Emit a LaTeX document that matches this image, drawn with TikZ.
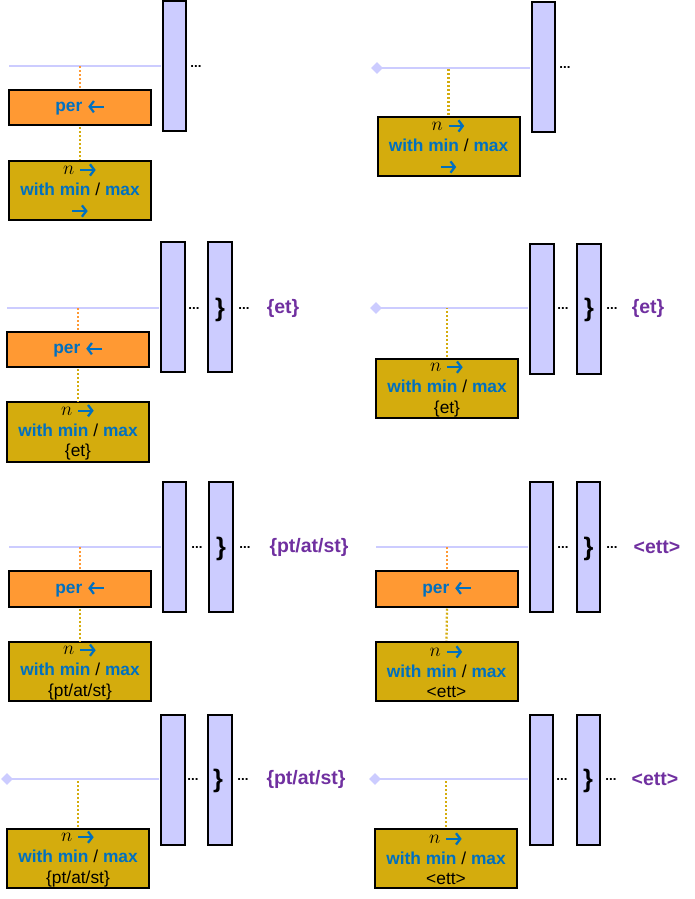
\documentclass[tikz,border=0pt]{standalone}
\usepackage{fontspec}
\setmainfont{Liberation Sans}
\usetikzlibrary{arrows.meta,shapes.geometric}
\definecolor{lav}{HTML}{CCCCFF}
\definecolor{orng}{HTML}{FF9933}
\definecolor{gld}{HTML}{D4AC0D}
\definecolor{bl}{HTML}{0070C0}
\definecolor{purp}{HTML}{7030A0}
\newcommand{\myRA}{\tikz[baseline=-3.6pt]{\draw[bl,line width=1.7pt,-{Straight Barb[length=3.2pt,width=8.5pt]}] (0pt,0pt)--(11.5pt,0pt);}}
\newcommand{\myLA}{\tikz[baseline=-3.6pt]{\draw[bl,line width=1.7pt,-{Straight Barb[length=3.2pt,width=8.5pt]}] (11.5pt,0pt)--(0pt,0pt);}}
\newcommand{\wmm}{\textcolor{bl}{\bfseries with min} / \textcolor{bl}{\bfseries max}}
\newcommand{\myN}{{\fontsize{15}{15.4}\selectfont$n$}}
\tikzset{
  barbox/.style={draw=black, line width=1.5pt, fill=lav, inner sep=0pt, minimum width=17.5pt, minimum height=97.5pt},
  obox/.style={draw=black, line width=1.5pt, fill=orng, inner sep=0pt, minimum width=106.5pt, minimum height=26.5pt, text=bl, font=\bfseries\fontsize{13}{15.4}\selectfont},
  gbox/.style={draw=black, line width=1.5pt, fill=gld, inner sep=0pt, minimum width=106.5pt, minimum height=44.5pt, align=center, font=\fontsize{13}{15.4}\selectfont},
  lavline/.style={draw=lav, line width=1.8pt, shorten >=0.8pt},
  dotline/.style={line width=1.7pt, dash pattern=on 1.5pt off 1.5pt, shorten <=0.8pt},
  dotsnode/.style={anchor=base, inner sep=0pt, font=\bfseries\fontsize{10}{11}\selectfont},
  brnode/.style={inner sep=0pt, font=\bfseries\fontsize{19}{22}\selectfont},
  plabel/.style={inner sep=0pt, text=purp, font=\bfseries\fontsize{14.6}{17}\selectfont},
  dmd/.style={diamond, fill=lav, inner sep=0pt, minimum size=9pt}
}
\begin{document}
\begin{tikzpicture}[x=0.75pt,y=-0.75pt]
\useasboundingbox (0,0) rectangle (695,899);
% ---------- panel 1 ----------
\coordinate (a1) at (9,66);
\node[barbox] (a1b) at (174.5,66) {};
\draw[lavline] (a1) -- (a1 -| a1b.west);
\node[dotsnode] (a1d) at (196,67.5) {...};
\node[obox] (a1o) at (80,107.5) {per \myLA};
\node[gbox] (a1g) at (80,190.5) {\myN{} \myRA\\ \wmm\\ \myRA};
\draw[dotline, orng] (a1o.north) -- (a1o.north |- a1);
\draw[dotline, gld] (a1o.south) -- (a1g.north);
% ---------- panel 2 ----------
\node[dmd] (a2) at (377,68) {};
\node[barbox] (a2b) at (543.5,67) {};
\draw[lavline] (a2.center) -- (a2.center -| a2b.west);
\node[dotsnode] (a2d) at (565,69) {...};
\node[gbox] (a2g) at (448.5,146.5) {\myN{} \myRA\\ \wmm\\ \myRA};
\draw[dotline, gld] (a2g.north) -- (a2g.north |- a2.center);
% ---------- panel 3 ----------
\coordinate (a3) at (7,308);
\node[barbox] (a3b) at (173,306.5) {};
\node[barbox] (a3c) at (220,306.5) {};
\draw[lavline] (a3) -- (a3 -| a3b.west);
\node[dotsnode] (a3d) at (194,309.5) {...};
\node[brnode] (a3r) at (220,310) {\}};
\node[dotsnode] (a3e) at (244,309.5) {...};
\node[plabel] (a3l) at (283,308) {\{et\}};
\node[obox] (a3o) at (78,349.5) {per \myLA};
\node[gbox] (a3g) at (78,432) {\myN{} \myRA\\ \wmm\\ \{et\}};
\draw[dotline, orng] (a3o.north) -- (a3o.north |- a3);
\draw[dotline, gld] (a3o.south) -- (a3g.north);
% ---------- panel 4 ----------
\node[dmd] (a4) at (376,308) {};
\node[barbox] (a4b) at (542,308.5) {};
\node[barbox] (a4c) at (589,308.5) {};
\draw[lavline] (a4.center) -- (a4.center -| a4b.west);
\node[dotsnode] (a4d) at (563,309.5) {...};
\node[brnode] (a4r) at (589,310) {\}};
\node[dotsnode] (a4e) at (612,309.5) {...};
\node[plabel] (a4l) at (648,308) {\{et\}};
\node[gbox] (a4g) at (447,388.5) {\myN{} \myRA\\ \wmm\\ \{et\}};
\draw[dotline, gld] (a4g.north) -- (a4g.north |- a4.center);
% ---------- panel 5 ----------
\coordinate (a5) at (9,547);
\node[barbox] (a5b) at (174.5,547) {};
\node[barbox] (a5c) at (221,547) {};
\draw[lavline] (a5) -- (a5 -| a5b.west);
\node[dotsnode] (a5d) at (197,548.5) {...};
\node[brnode] (a5r) at (221,549) {\}};
\node[dotsnode] (a5e) at (245,548.5) {...};
\node[plabel] (a5l) at (309,547) {\{pt/at/st\}};
\node[obox] (a5o) at (80,589) {per \myLA};
\node[gbox] (a5g) at (80,671.5) {\myN{} \myRA\\ \wmm\\ \{pt/at/st\}};
\draw[dotline, orng] (a5o.north) -- (a5o.north |- a5);
\draw[dotline, gld] (a5o.south) -- (a5g.north);
% ---------- panel 6 ----------
\coordinate (a6) at (376,547);
\node[barbox] (a6b) at (541.5,547) {};
\node[barbox] (a6c) at (588.5,547) {};
\draw[lavline] (a6) -- (a6 -| a6b.west);
\node[dotsnode] (a6d) at (563,548.5) {...};
\node[brnode] (a6r) at (588.5,549) {\}};
\node[dotsnode] (a6e) at (612,548.5) {...};
\node[plabel] (a6l) at (657,547) {<ett>};
\node[obox] (a6o) at (447,589) {per \myLA};
\node[gbox] (a6g) at (446.5,671.5) {\myN{} \myRA\\ \wmm\\ <ett>};
\draw[dotline, orng] (a6o.north) -- (a6o.north |- a6);
\draw[dotline, gld] (a6o.south) -- (a6g.north);
% ---------- panel 7 ----------
\node[dmd] (a7) at (7,779) {};
\node[barbox] (a7b) at (173,779.5) {};
\node[barbox] (a7c) at (220,779.5) {};
\draw[lavline] (a7.center) -- (a7.center -| a7b.west);
\node[dotsnode] (a7d) at (193,780.5) {...};
\node[brnode] (a7r) at (218,781) {\}};
\node[dotsnode] (a7e) at (243,780.5) {...};
\node[plabel] (a7l) at (306,779) {\{pt/at/st\}};
\node[gbox] (a7g) at (78,858.5) {\myN{} \myRA\\ \wmm\\ \{pt/at/st\}};
\draw[dotline, gld] (a7g.north) -- (a7g.north |- a7.center);
% ---------- panel 8 ----------
\node[dmd] (a8) at (375,779) {};
\node[barbox] (a8b) at (541.5,779.5) {};
\node[barbox] (a8c) at (588.5,779.5) {};
\draw[lavline] (a8.center) -- (a8.center -| a8b.west);
\node[dotsnode] (a8d) at (562,780.5) {...};
\node[brnode] (a8r) at (588,781) {\}};
\node[dotsnode] (a8e) at (611,780.5) {...};
\node[plabel] (a8l) at (655,779) {<ett>};
\node[gbox] (a8g) at (446,858.5) {\myN{} \myRA\\ \wmm\\ <ett>};
\draw[dotline, gld] (a8g.north) -- (a8g.north |- a8.center);
\end{tikzpicture}
\end{document}
